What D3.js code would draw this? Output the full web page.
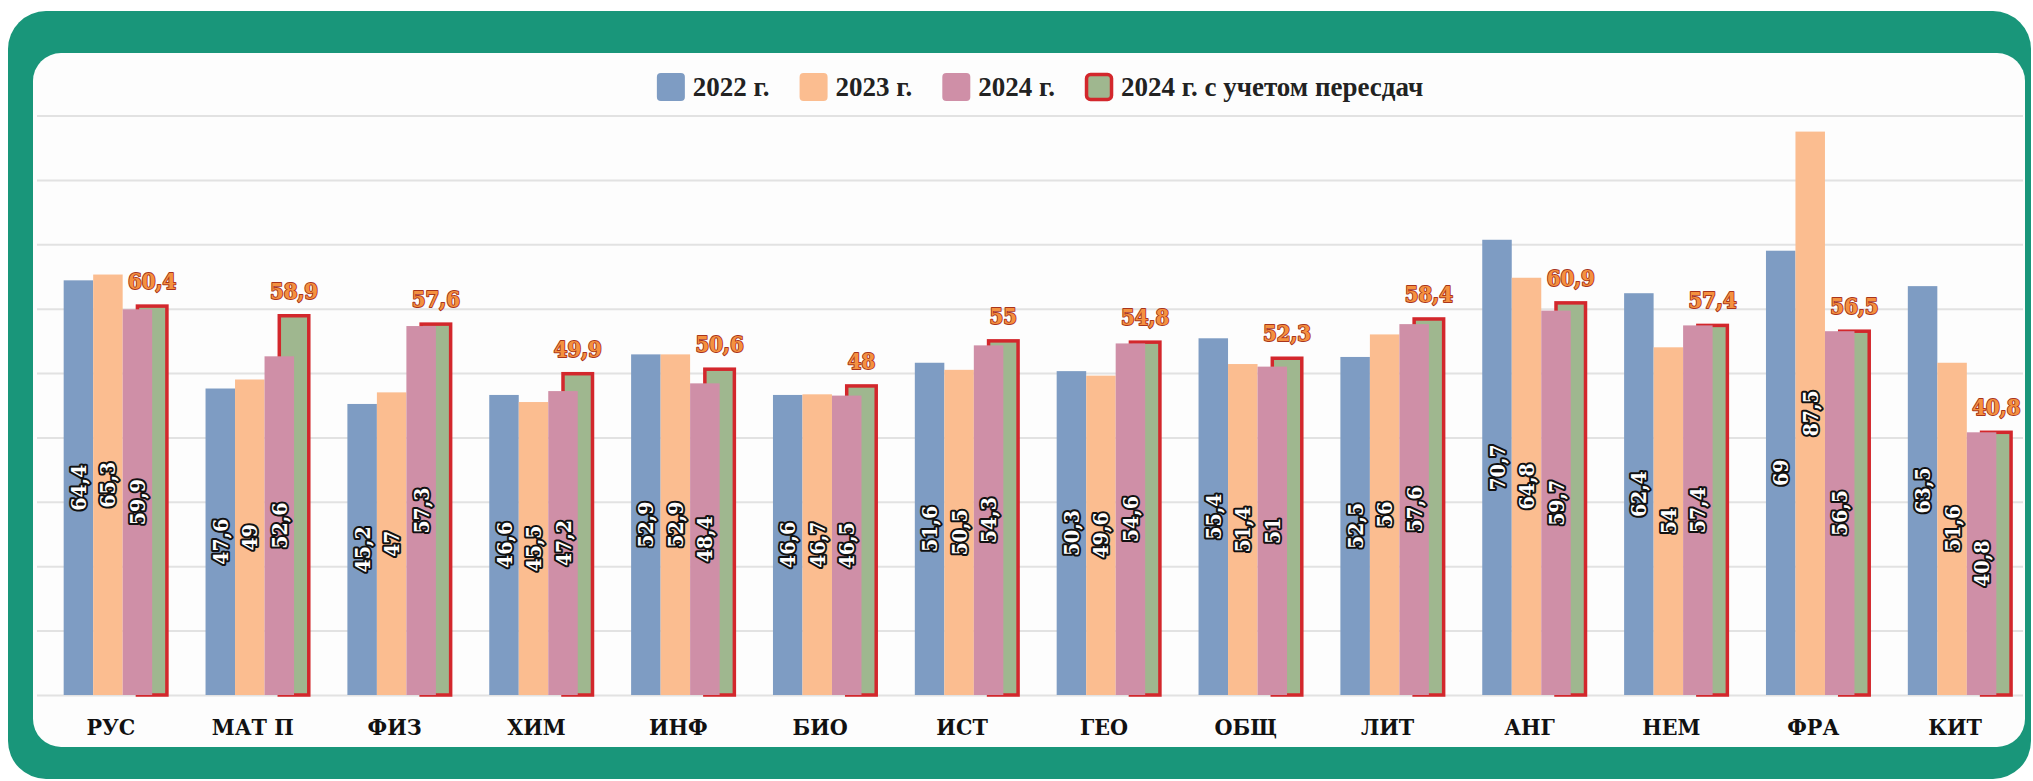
<!DOCTYPE html>
<html>
<head>
<meta charset="utf-8">
<script src="https://cdn.jsdelivr.net/npm/d3@7"></script>
<style>
	html, body { margin: 0; padding: 0; background: #ffffff; }
	svg { display: block; }
</style>
</head>
<body>
<div id="chart"></div>
<script>
// subjects and average scores
const subjects = ['РУС', 'МАТ П', 'ФИЗ', 'ХИМ', 'ИНФ', 'БИО', 'ИСТ', 'ГЕО', 'ОБЩ', 'ЛИТ', 'АНГ', 'НЕМ', 'ФРА', 'КИТ'];
const scores2022 = [64.4, 47.6, 45.2, 46.6, 52.9, 46.6, 51.6, 50.3, 55.4, 52.5, 70.7, 62.4, 69, 63.5];
const scores2023 = [65.3, 49, 47, 45.5, 52.9, 46.7, 50.5, 49.6, 51.4, 56, 64.8, 54, 87.5, 51.6];
const scores2024 = [59.9, 52.6, 57.3, 47.2, 48.4, 46.5, 54.3, 54.6, 51, 57.6, 59.7, 57.4, 56.5, 40.8];
const scoresRetake = [60.4, 58.9, 57.6, 49.9, 50.6, 48, 55, 54.8, 52.3, 58.4, 60.9, 57.4, 56.5, 40.8];
const yTicks = [0, 10, 20, 30, 40, 50, 60, 70, 80, 90];
const legendLabels = ['2022 г.', '2023 г.', '2024 г.', '2024 г. с учетом пересдач'];

const W = 2033;
const H = 781;

const colors = {
	y2022: '#7e9cc3',
	y2023: '#fbbd90',
	y2024: '#cf8fa7',
	retake: '#9fb78f',
	outline: '#d3272c',
	frame: '#19967a',
	grid: '#e2e2e2'
};

const svg = d3.select('#chart').append('svg')
	.attr('width', W)
	.attr('height', H);

// green card + white panel
svg.append('rect')
	.attr('x', 8).attr('y', 11)
	.attr('width', 2031 - 8).attr('height', 779 - 11)
	.attr('rx', 38)
	.style('fill', colors.frame);

svg.append('rect')
	.attr('x', 33).attr('y', 53)
	.attr('width', 2025 - 33).attr('height', 747 - 53)
	.attr('rx', 28)
	.style('fill', '#fdfdfd');

const x = d3.scaleBand()
	.domain(subjects)
	.range([37, 2023]);

const y = d3.scaleLinear()
	.domain([0, 90])
	.range([695, 115.5]);

const barW = 29.5;

// offsets of the three yearly bars around the category centre
const sub = d3.scaleBand()
	.domain(['y2022', 'y2023', 'y2024'])
	.range([-1.5 * barW, 1.5 * barW]);

const cx = s => x(s) + x.bandwidth() / 2;
const fmt = v => String(v).replace('.', ',');

// gridlines
const grid = svg.append('g')
	.attr('transform', `translate(${x.range()[0]},0)`)
	.call(d3.axisLeft(y)
		.tickValues(yTicks)
		.tickSize(-(x.range()[1] - x.range()[0]))
		.tickFormat(''));
grid.select('.domain').remove();
grid.selectAll('line')
	.style('stroke', colors.grid)
	.style('stroke-width', 2);

// category labels
const xAxis = svg.append('g')
	.attr('transform', `translate(0,${y(0)})`)
	.call(d3.axisBottom(x).tickSize(0));
xAxis.select('.domain').remove();
xAxis.selectAll('text')
	.attr('x', 3)
	.attr('y', 40)
	.attr('dy', 0)
	.style('font-family', '"DejaVu Serif Condensed", "DejaVu Serif", serif')
	.style('font-weight', 'bold')
	.style('font-size', '23px')
	.style('fill', '#111');

// retake bars (green, red outline) - drawn first so 2024 overlaps them
const retakeData = subjects.map((s, i) => ({ s, v: scoresRetake[i] }));

svg.append('g').selectAll('rect')
	.data(retakeData)
	.enter()
	.append('rect')
	.attr('x', d => cx(d.s) + barW)
	.attr('y', d => y(d.v))
	.attr('width', barW)
	.attr('height', d => y(0) - y(d.v))
	.style('fill', colors.retake)
	.style('stroke', colors.outline)
	.style('stroke-width', 3.5);

const series = [
	{ key: 'y2022', values: scores2022 },
	{ key: 'y2023', values: scores2023 },
	{ key: 'y2024', values: scores2024 }
];

series.forEach(ser => {
	const data = subjects.map((s, i) => ({ s, v: ser.values[i] }));
	svg.append('g').selectAll('rect')
		.data(data)
		.enter()
		.append('rect')
		.attr('x', d => cx(d.s) + sub(ser.key))
		.attr('y', d => y(d.v))
		.attr('width', barW)
		.attr('height', d => y(0) - y(d.v))
		.style('fill', colors[ser.key]);
});

// value labels inside the yearly bars (rotated)
series.forEach(ser => {
	const data = subjects.map((s, i) => ({ s, v: ser.values[i] }));
	svg.append('g').selectAll('text')
		.data(data)
		.enter()
		.append('text')
		.attr('transform', d => {
			const px = cx(d.s) + sub(ser.key) + barW / 2;
			const py = (y(d.v) + y(0)) / 2;
			return `translate(${px},${py}) rotate(-90)`;
		})
		.attr('text-anchor', 'middle')
		.attr('dy', '0.36em')
		.text(d => fmt(d.v))
		.style('font-family', '"DejaVu Serif Condensed", "DejaVu Serif", serif')
		.style('font-weight', 'bold')
		.style('font-size', '21px')
		.style('fill', '#fff')
		.style('stroke', '#111')
		.style('stroke-width', 4)
		.style('stroke-linejoin', 'round')
		.style('paint-order', 'stroke');
});

// retake labels above the green bars
svg.append('g').selectAll('text')
	.data(retakeData)
	.enter()
	.append('text')
	.attr('x', d => cx(d.s) + 1.5 * barW)
	.attr('y', d => y(d.v) - 17)
	.attr('text-anchor', 'middle')
	.text(d => fmt(d.v))
	.style('font-family', '"DejaVu Serif Condensed", "DejaVu Serif", serif')
	.style('font-weight', 'bold')
	.style('font-size', '22px')
	.style('fill', '#f4913f')
	.style('stroke', '#a8341c')
	.style('stroke-width', 1.8)
	.style('stroke-linejoin', 'round')
	.style('paint-order', 'stroke');

// legend
const legendFill = [colors.y2022, colors.y2023, colors.y2024, colors.retake];
const legend = svg.append('g');
let lx = 0;
legendLabels.forEach((label, i) => {
	const item = legend.append('g').attr('transform', `translate(${lx},0)`);
	item.append('rect')
		.attr('x', i === 3 ? 1.5 : 0)
		.attr('y', i === 3 ? 1.5 : 0)
		.attr('width', i === 3 ? 25 : 28)
		.attr('height', i === 3 ? 25 : 28)
		.attr('rx', 4)
		.style('fill', legendFill[i])
		.style('stroke', i === 3 ? colors.outline : 'none')
		.style('stroke-width', 3.5);
	const t = item.append('text')
		.attr('x', 36)
		.attr('y', 23)
		.text(label)
		.style('font-family', '"Liberation Serif", serif')
		.style('font-weight', 'bold')
		.style('font-size', '27px')
		.style('fill', '#222');
	lx += 36 + t.node().getComputedTextLength() + 30;
});
const legendW = lx - 30;
legend.attr('transform', `translate(${1040 - legendW / 2},73)`);
</script>
</body>
</html>
